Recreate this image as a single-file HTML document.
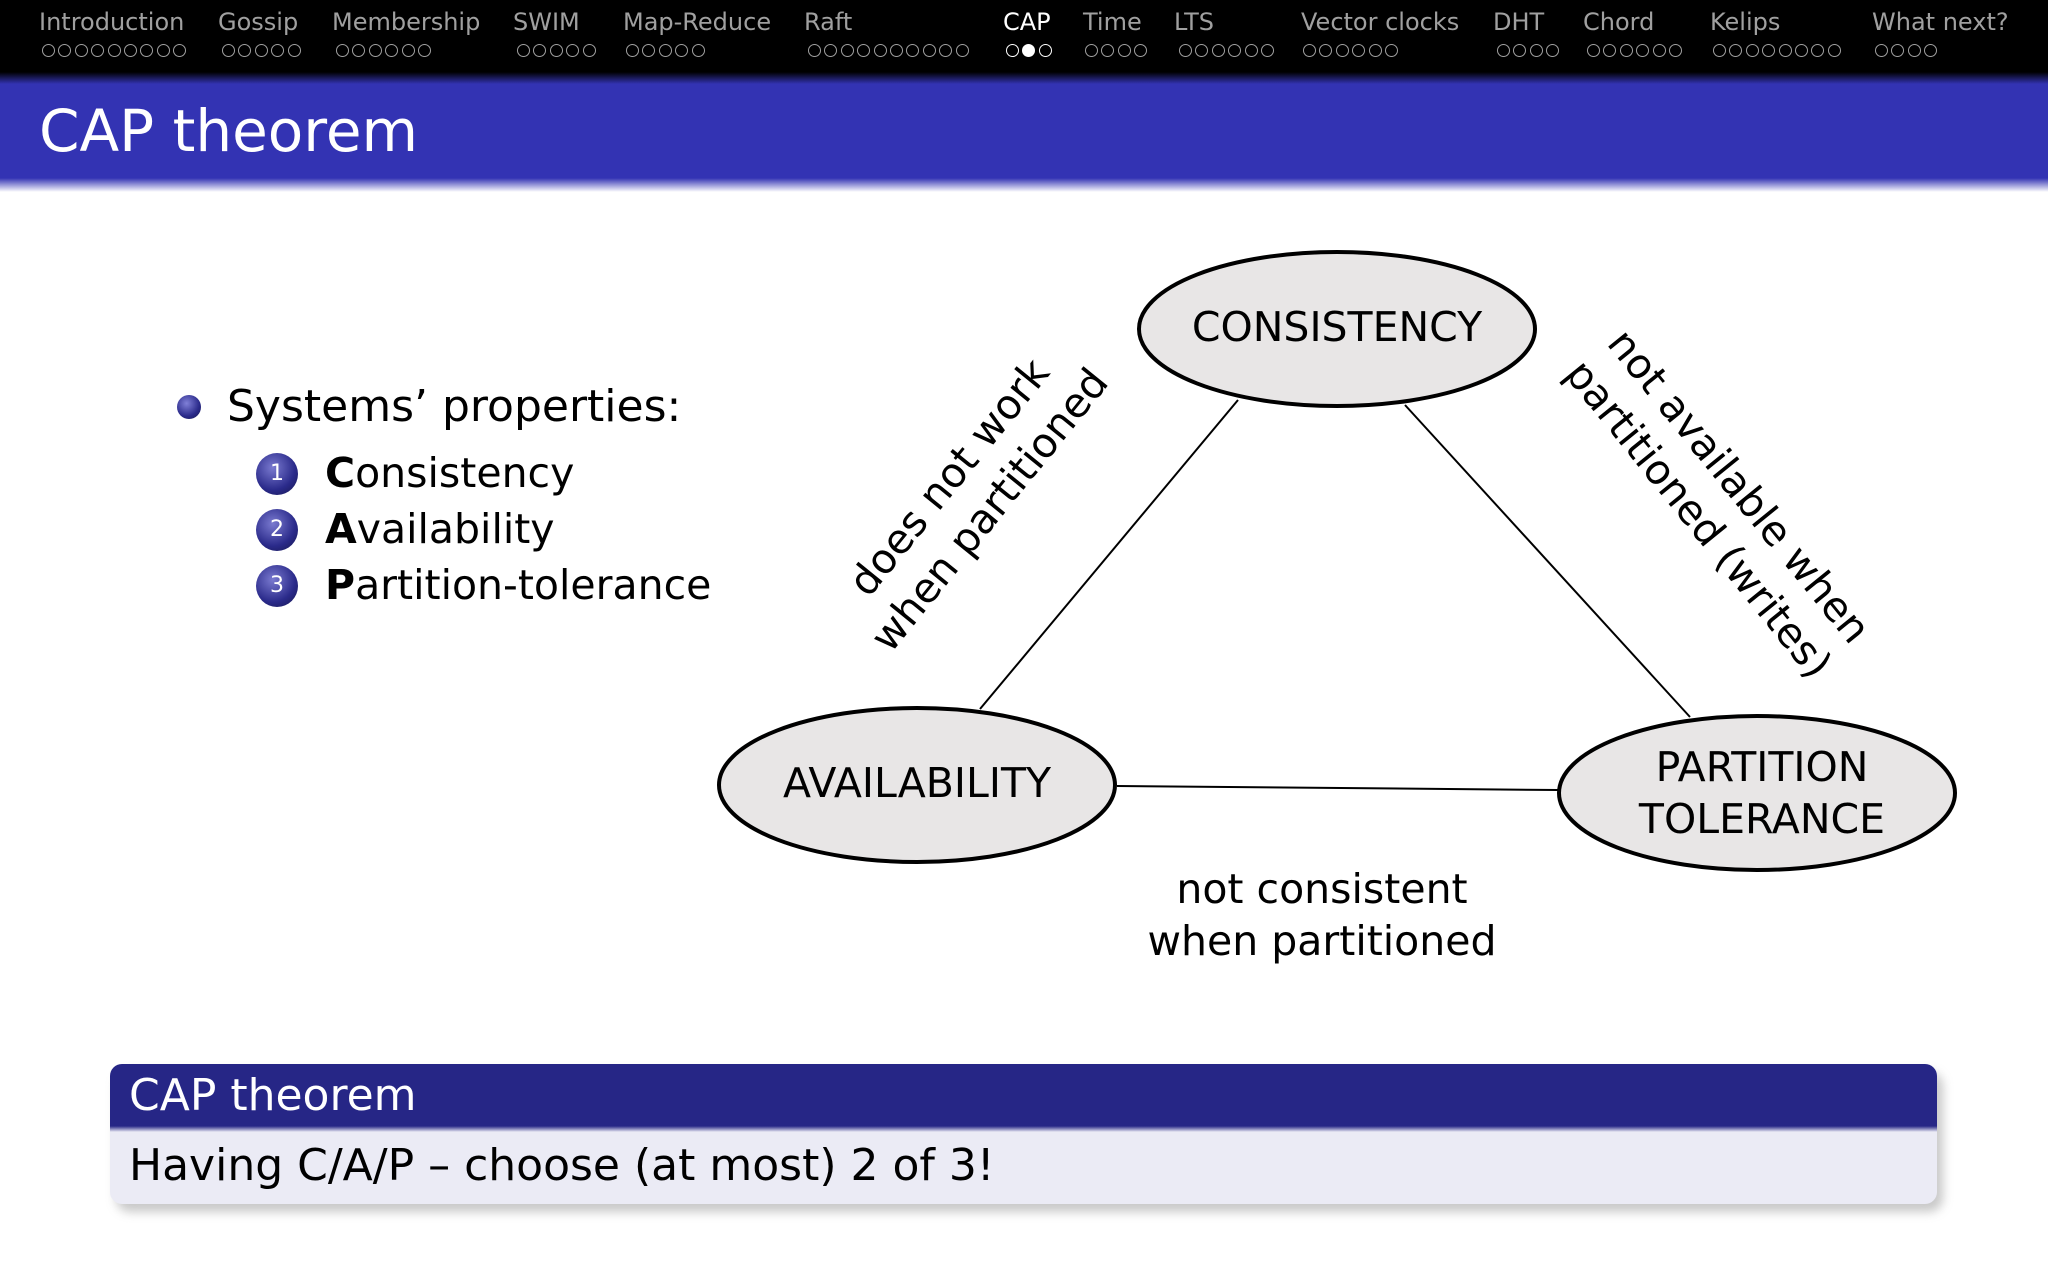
<!DOCTYPE html>
<html><head><meta charset="utf-8"><style>
body{margin:0;width:2048px;height:1280px;background:#fff;position:relative;overflow:hidden;font-family:"DejaVu Sans","Liberation Sans",sans-serif;}
.a{position:absolute;white-space:nowrap;}
.nav{color:#a0a0a0;font-size:24px;top:8px;}
.dots{top:44px;height:16px;font-size:0;}
.d{display:inline-block;width:11px;height:11px;border:1.6px solid #a0a0a0;border-radius:50%;margin-right:3.4px;box-sizing:content-box;}
.d.f{background:#fff;border-color:#fff}
.d.w{border-color:#fff}
.num{width:42px;height:42px;border-radius:50%;background:radial-gradient(circle at 40% 35%,#7a7ad0,#2a2a8a 60%,#15154a);color:#fff;font-size:22px;text-align:center;line-height:42px;}
</style></head><body>
<div class="a" style="left:0;top:0;width:2048px;height:78px;background:#000"></div>
<div class="a" style="left:0;top:72px;width:2048px;height:12px;background:linear-gradient(#000,#3333b3)"></div>
<div class="a" style="left:0;top:84px;width:2048px;height:96px;background:#3333b3"></div>
<div class="a" style="left:0;top:178px;width:2048px;height:14px;background:linear-gradient(#3333b3,#fff)"></div>

<div class="a nav" style="left:39px">Introduction</div>
<div class="a nav" style="left:218px">Gossip</div>
<div class="a nav" style="left:332px">Membership</div>
<div class="a nav" style="left:513px">SWIM</div>
<div class="a nav" style="left:623px">Map-Reduce</div>
<div class="a nav" style="left:804px">Raft</div>
<div class="a nav" style="left:1003px;color:#fff">CAP</div>
<div class="a nav" style="left:1083px">Time</div>
<div class="a nav" style="left:1174px">LTS</div>
<div class="a nav" style="left:1301px">Vector clocks</div>
<div class="a nav" style="left:1493px">DHT</div>
<div class="a nav" style="left:1583px">Chord</div>
<div class="a nav" style="left:1710px">Kelips</div>
<div class="a nav" style="left:1872px">What next?</div>

<div class="a dots" style="left:42px"><span class="d"></span><span class="d"></span><span class="d"></span><span class="d"></span><span class="d"></span><span class="d"></span><span class="d"></span><span class="d"></span><span class="d"></span></div>
<div class="a dots" style="left:222px"><span class="d"></span><span class="d"></span><span class="d"></span><span class="d"></span><span class="d"></span></div>
<div class="a dots" style="left:336px"><span class="d"></span><span class="d"></span><span class="d"></span><span class="d"></span><span class="d"></span><span class="d"></span></div>
<div class="a dots" style="left:517px"><span class="d"></span><span class="d"></span><span class="d"></span><span class="d"></span><span class="d"></span></div>
<div class="a dots" style="left:626px"><span class="d"></span><span class="d"></span><span class="d"></span><span class="d"></span><span class="d"></span></div>
<div class="a dots" style="left:808px"><span class="d"></span><span class="d"></span><span class="d"></span><span class="d"></span><span class="d"></span><span class="d"></span><span class="d"></span><span class="d"></span><span class="d"></span><span class="d"></span></div>
<div class="a dots" style="left:1006px"><span class="d w"></span><span class="d f"></span><span class="d w"></span></div>
<div class="a dots" style="left:1085px"><span class="d"></span><span class="d"></span><span class="d"></span><span class="d"></span></div>
<div class="a dots" style="left:1179px"><span class="d"></span><span class="d"></span><span class="d"></span><span class="d"></span><span class="d"></span><span class="d"></span></div>
<div class="a dots" style="left:1303px"><span class="d"></span><span class="d"></span><span class="d"></span><span class="d"></span><span class="d"></span><span class="d"></span></div>
<div class="a dots" style="left:1497px"><span class="d"></span><span class="d"></span><span class="d"></span><span class="d"></span></div>
<div class="a dots" style="left:1587px"><span class="d"></span><span class="d"></span><span class="d"></span><span class="d"></span><span class="d"></span><span class="d"></span></div>
<div class="a dots" style="left:1713px"><span class="d"></span><span class="d"></span><span class="d"></span><span class="d"></span><span class="d"></span><span class="d"></span><span class="d"></span><span class="d"></span></div>
<div class="a dots" style="left:1875px"><span class="d"></span><span class="d"></span><span class="d"></span><span class="d"></span></div>

<div class="a" style="left:39px;top:97px;color:#fff;font-size:58px;">CAP theorem</div>

<div class="a" style="left:177px;top:395px;width:24px;height:24px;border-radius:50%;background:radial-gradient(circle at 40% 35%,#8080d8,#2a2a8a 60%,#15154a)"></div>
<div class="a" style="left:227px;top:381px;font-size:44px;color:#000">Systems’ properties:</div>
<div class="a num" style="left:256px;top:453px">1</div>
<div class="a num" style="left:256px;top:509px">2</div>
<div class="a num" style="left:256px;top:565px">3</div>
<div class="a" style="left:325px;top:449px;font-size:41px"><b>C</b>onsistency</div>
<div class="a" style="left:325px;top:505px;font-size:41px"><b>A</b>vailability</div>
<div class="a" style="left:325px;top:561px;font-size:41px"><b>P</b>artition-tolerance</div>

<svg class="a" style="left:0;top:0" width="2048" height="1280">
<g stroke="#000" stroke-width="2">
<line x1="1238" y1="400" x2="980" y2="709"/>
<line x1="1405" y1="405" x2="1690" y2="717"/>
<line x1="1117" y1="786" x2="1558" y2="790"/>
</g>
<g fill="#e8e6e6" stroke="#000" stroke-width="4">
<ellipse cx="1337" cy="329" rx="198" ry="77"/>
<ellipse cx="917" cy="785" rx="198" ry="77"/>
<ellipse cx="1757" cy="793" rx="198" ry="77"/>
</g>
<g font-family="DejaVu Sans, Liberation Sans, sans-serif" font-size="41" text-anchor="middle" fill="#000">
<text x="1337" y="341">CONSISTENCY</text>
<text x="917" y="797">AVAILABILITY</text>
<text x="1762" y="781">PARTITION</text>
<text x="1762" y="833">TOLERANCE</text>
<text x="1322" y="903">not consistent</text>
<text x="1322" y="955">when partitioned</text>
<g transform="translate(966,491) rotate(-51)">
<text x="0" y="-8">does not work</text>
<text x="0" y="44">when partitioned</text>
</g>
<g transform="translate(1722,500) rotate(51)">
<text x="0" y="-8">not available when</text>
<text x="0" y="44">partitioned (writes)</text>
</g>
</g>
</svg>

<div class="a" style="left:116px;top:1072px;width:1827px;height:140px;border-radius:14px;background:#bbb;filter:blur(5px);opacity:.8"></div>
<div class="a" style="left:110px;top:1064px;width:1827px;height:140px;border-radius:12px;overflow:hidden;background:#ebebf5">
<div style="height:62px;background:#262686;color:#fff;font-size:44px;padding-left:19px;line-height:64px">CAP theorem</div>
<div style="height:6px;background:linear-gradient(#262686,#ebebf5)"></div>
<div style="font-size:44px;padding-left:19px;line-height:60px;margin-top:4px;color:#000">Having C/A/P – choose (at most) 2 of 3!</div>
</div>
</body></html>
